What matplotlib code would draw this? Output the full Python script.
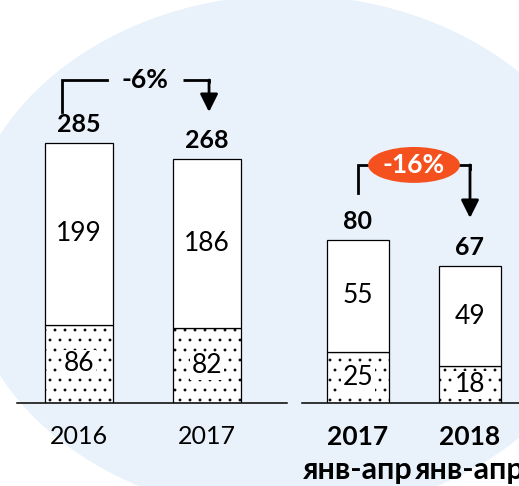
import matplotlib
matplotlib.use("Agg")
import matplotlib.pyplot as plt
from matplotlib.patches import Ellipse

# данные
years_full = ["2016", "2017"]
total_full = [285, 268]
top_full = [199, 186]
bottom_full = [86, 82]
change_full = "-6%"

years_part = ["2017", "2018"]
period_part = "янв-апр"
total_part = [80, 67]
top_part = [55, 49]
bottom_part = [25, 18]
change_part = "-16%"

# dpi 120 -> точки штриховки через 10 px; размеры ниже задаются "как при 100 dpi"
DPI = 120
K = 100 / DPI

plt.rcParams["font.family"] = ["Lato", "Open Sans", "DejaVu Sans"]
plt.rcParams["hatch.color"] = "#444444"
plt.rcParams["hatch.linewidth"] = 0.6 * K

W, H = 519, 486
fig = plt.figure(figsize=(W / DPI, H / DPI), dpi=DPI)

# фон - голубой овал
bg = fig.add_axes([0, 0, 1, 1])
bg.set_xlim(0, W)
bg.set_ylim(H, 0)
bg.axis("off")
bg.add_patch(Ellipse((288, 255), 650, 520, facecolor="#e9f1fb", edgecolor="none"))


def px_axes(x0, x1, base, top=0):
    ax = fig.add_axes([x0 / W, (H - base) / H, (x1 - x0) / W, (base - top) / H])
    ax.patch.set_alpha(0)
    for s in ["left", "right", "top"]:
        ax.spines[s].set_visible(False)
    ax.spines["bottom"].set_linewidth(1.1 * K)
    ax.set_yticks([])
    ax.tick_params(axis="x", length=0, pad=16 * K)
    return ax


def draw_bars(ax, width, totals, tops, bottoms):
    x = range(len(totals))
    ax.bar(x, bottoms, width, color="white", edgecolor="black", lw=0.9 * K, hatch="..")
    ax.bar(x, tops, width, bottom=bottoms, color="white", edgecolor="black", lw=0.9 * K)
    for i in x:
        ax.text(i, bottoms[i] + tops[i] / 2, str(tops[i]), ha="center", va="center",
                fontsize=19 * K)
        ax.text(i, bottoms[i] / 2, str(bottoms[i]), ha="center", va="center",
                fontsize=19 * K, bbox=dict(facecolor="white", edgecolor="none", pad=1))
        ax.annotate(str(totals[i]), (i, totals[i]), xytext=(0, 5 * K),
                    textcoords="offset points", ha="center", va="bottom",
                    fontsize=18 * K, fontweight="bold")


def bracket_arrow(ax, x_end, y_top, y_tip):
    ax.annotate("", xy=(x_end, y_tip), xytext=(x_end, y_top),
                arrowprops=dict(arrowstyle="-|>", color="black", lw=2 * K,
                                mutation_scale=27 * K, shrinkA=0, shrinkB=0))


# левая группа (года)
ax1 = px_axes(17, 287, 403)
ax1.set_ylim(0, 403 / 0.9123)
ax1.set_xlim(-0.484, 1.625)
draw_bars(ax1, 0.53, total_full, top_full, bottom_full)
ax1.set_xticks([0, 1])
ax1.set_xticklabels(years_full, fontsize=18 * K)

yb, yt, ytip = 319, 354, 319
ax1.plot([-0.133, -0.133, 0.219], [yb, yt, yt], color="black", lw=2 * K,
         solid_joinstyle="miter")
ax1.plot([0.81, 1.016, 1.016], [yt, yt, yt - 3], color="black", lw=2 * K,
         solid_joinstyle="miter", solid_capstyle="butt")
bracket_arrow(ax1, 1.016, yt, ytip)
ax1.text(0.516, yt, change_full, ha="center", va="center", fontsize=19 * K,
         fontweight="bold")

# правая группа (янв-апр)
ax2 = px_axes(302, 519, 403)
ax2.set_ylim(0, 403 / 2.04)
ax2.set_xlim(-0.5, 1.4375)
draw_bars(ax2, 0.554, total_part, top_part, bottom_part)
ax2.set_xticks([0, 1])
ax2.set_xticklabels(years_part, fontsize=19 * K, fontweight="bold")
for i in range(len(years_part)):
    ax2.annotate(period_part, (i, 0), xytext=(0, -55 * K), textcoords="offset points",
                 ha="center", va="baseline", fontsize=22 * K, fontweight="bold",
                 annotation_clip=False)

yb, yt, ytip = 103, 116.7, 90.7
ax2.plot([0, 0, 1.0, 1.0], [yb, yt, yt, yt - 2], color="black", lw=2 * K,
         solid_joinstyle="miter")
bracket_arrow(ax2, 1.0, yt, ytip)
ax2.add_patch(Ellipse((0.5, yt), 0.82, 17.6, facecolor="#f4511e",
                      edgecolor="none", zorder=3))
ax2.text(0.5, yt, change_part, ha="center", va="center", fontsize=19 * K,
         fontweight="bold", color="white", zorder=4)

fig.savefig("out.png", dpi=DPI)
